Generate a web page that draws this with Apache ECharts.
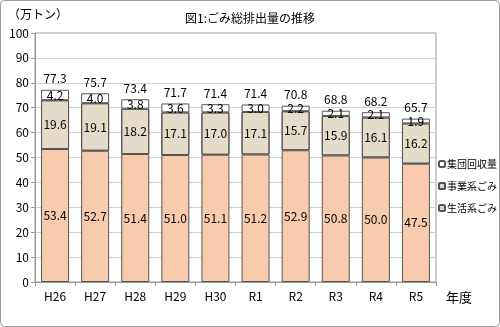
<!DOCTYPE html>
<html><head><meta charset="utf-8">
<script src="https://cdn.jsdelivr.net/npm/echarts@6/dist/echarts.min.js"></script>
<style>html,body{margin:0;padding:0;background:#fff}#c{width:500px;height:327px}</style>
</head><body><div id="c"></div>
<script>
const categories = ['H26','H27','H28','H29','H30','R1','R2','R3','R4','R5'];
const household = [53.4,52.7,51.4,51.0,51.1,51.2,52.9,50.8,50.0,47.5];
const business = [19.6,19.1,18.2,17.1,17.0,17.1,15.7,15.9,16.1,16.2];
const collection = [4.2,4.0,3.8,3.6,3.3,3.0,2.2,2.1,2.1,1.9];
const totals = [77.3,75.7,73.4,71.7,71.4,71.4,70.8,68.8,68.2,65.7];
const yTicks = [0,10,20,30,40,50,60,70,80,90,100];

const FONT = '"Noto Sans CJK JP", "DejaVu Sans", sans-serif';
const chart = echarts.init(document.getElementById('c'));
const lbl = {show:true, position:'inside', color:'#000', fontSize:12, fontFamily:FONT, formatter:p=>p.value.toFixed(1)};
const border = {borderColor:'#555', borderWidth:1};
chart.setOption({
  animation:false,
  textStyle:{fontFamily:FONT},
  title:{text:'図1:ごみ総排出量の推移', left:'center', top:7, textStyle:{fontSize:12, fontWeight:'normal', color:'#000', fontFamily:FONT}},
  graphic:[
    {type:'rect', shape:{x:0.5,y:0.5,width:499,height:326,r:4}, style:{fill:'none', stroke:'#999', lineWidth:1}, silent:true},
    {type:'text', left:8, top:8, style:{text:'（万トン）', fontSize:12, fill:'#000', fontFamily:FONT}},
    {type:'text', left:446, top:291, style:{text:'年度', fontSize:13, fill:'#000', fontFamily:FONT}}
  ],
  legend:{
    orient:'vertical', left:436, top:157, itemWidth:6, itemHeight:6, itemGap:12, padding:2,
    data:['集団回収量','事業系ごみ','生活系ごみ'],
    textStyle:{fontSize:10, color:'#000', fontFamily:FONT, padding:[0,0,0,-3]}
  },
  grid:{left:35, right:64, top:33, bottom:45, show:true, borderColor:'#999', borderWidth:1},
  xAxis:{type:'category', data:categories,
    axisLine:{lineStyle:{color:'#999'}},
    axisTick:{show:true, lineStyle:{color:'#999'}, length:4},
    axisLabel:{color:'#000', fontSize:12, margin:8, fontFamily:FONT}},
  yAxis:{type:'value', min:0, max:100, interval:10,
    axisLine:{show:true, lineStyle:{color:'#999'}},
    axisTick:{show:true, length:4, lineStyle:{color:'#999'}},
    splitLine:{lineStyle:{color:'#d0d0d0'}},
    axisLabel:{color:'#000', fontSize:12, margin:6, fontFamily:FONT, formatter:v=>yTicks.includes(v)?String(v):''}},
  series:[
    {name:'生活系ごみ', type:'bar', stack:'s', data:household, barWidth:28,
      itemStyle:Object.assign({color:'#f8cbad'},border), label:lbl},
    {name:'事業系ごみ', type:'bar', stack:'s', data:business, barWidth:28,
      itemStyle:Object.assign({color:'#e6dcca', decal:{symbol:'rect', symbolSize:0.5, dashArrayX:[1,1], dashArrayY:[1,2], color:'rgba(160,145,120,0.25)', rotation:0}},border), label:lbl},
    {name:'集団回収量', type:'bar', stack:'s', data:collection, barWidth:28,
      itemStyle:Object.assign({color:'#fff'},border), label:lbl},
    {name:'total', type:'bar', stack:'s', data:totals.map(()=>0), barWidth:28,
      itemStyle:{color:'transparent'},
      label:{show:true, position:'top', distance:5, color:'#000', fontSize:12, fontFamily:FONT, formatter:p=>totals[p.dataIndex].toFixed(1)}}
  ]
});
</script></body></html>
